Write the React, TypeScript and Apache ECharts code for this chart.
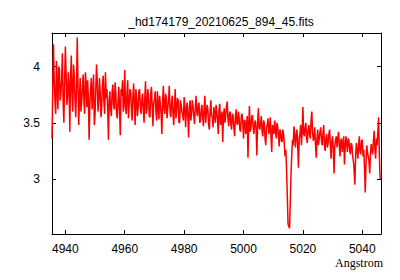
import React, { useEffect, useRef } from "react";
import * as echarts from "echarts";

const TITLE = "_hd174179_20210625_894_45.fits";
const X_NAME = "Angstrom";
const X_TICKS = [4940, 4960, 4980, 5000, 5020, 5040];
const Y_TICKS = [3, 3.5, 4];
const X_MIN = 4935.5;
const X_MAX = 5046.3;
const Y_MIN = 2.51;
const Y_MAX = 4.3;
// wavelength grid: start and step (Angstrom)
const WAVE_START = 4935.5;
const WAVE_STEP = 0.25;
// flux
const FLUX = [
  3.36, 3.78, 4.2, 3.88, 3.7, 3.58, 4.05, 3.82, 3.62, 4.0, 3.98, 3.7, 3.75, 3.9, 4.12, 3.68, 3.5, 3.86, 4.18, 3.95,
  3.66, 3.74, 3.95, 3.82, 3.42, 3.9, 4.1, 3.74, 3.6, 4.02, 3.92, 3.7, 3.55, 3.8, 4.26, 3.85, 3.48, 3.72, 3.9, 3.6,
  3.68, 3.82, 3.93, 3.7, 3.58, 3.95, 3.85, 3.64, 3.88, 3.72, 3.35, 3.66, 3.8, 3.9, 3.62, 3.75, 3.93, 3.48, 3.57, 3.8,
  4.02, 3.86, 3.6, 3.7, 3.9, 3.76, 3.55, 3.66, 3.84, 3.92, 3.68, 3.58, 3.95, 3.72, 3.8, 3.64, 3.35, 3.7, 3.78, 3.62,
  3.56, 3.78, 3.84, 3.66, 3.62, 3.86, 3.76, 3.58, 3.54, 3.7, 3.82, 3.62, 3.39, 3.8, 3.74, 3.88, 3.6, 3.68, 3.97, 3.64,
  3.58, 3.76, 3.88, 3.54, 3.66, 3.8, 3.78, 3.62, 3.52, 3.74, 3.85, 3.66, 3.48, 3.8, 3.72, 3.56, 3.63, 3.78, 3.8, 3.64,
  3.58, 3.7, 3.76, 3.62, 3.5, 3.72, 3.87, 3.58, 3.62, 3.8, 3.74, 3.56, 3.55, 3.76, 3.82, 3.64, 3.47, 3.68, 3.7, 3.78,
  3.6, 3.52, 3.78, 3.66, 3.53, 3.74, 3.66, 3.58, 3.4, 3.7, 3.83, 3.62, 3.58, 3.76, 3.72, 3.54, 3.63, 3.7, 3.83, 3.6,
  3.55, 3.68, 3.74, 3.58, 3.48, 3.66, 3.8, 3.54, 3.62, 3.72, 3.7, 3.5, 3.5, 3.7, 3.66, 3.6, 3.57, 3.52, 3.73, 3.64,
  3.46, 3.62, 3.68, 3.55, 3.37, 3.64, 3.7, 3.52, 3.58, 3.7, 3.65, 3.56, 3.49, 3.62, 3.74, 3.6, 3.56, 3.66, 3.68, 3.5,
  3.52, 3.62, 3.66, 3.54, 3.47, 3.64, 3.74, 3.5, 3.58, 3.66, 3.62, 3.48, 3.44, 3.6, 3.7, 3.56, 3.55, 3.46, 3.64, 3.58,
  3.5, 3.66, 3.6, 3.52, 3.4, 3.62, 3.67, 3.48, 3.53, 3.6, 3.33, 3.56, 3.63, 3.5, 3.56, 3.64, 3.69, 3.54, 3.47, 3.58,
  3.6, 3.48, 3.44, 3.58, 3.56, 3.46, 3.38, 3.54, 3.62, 3.5, 3.48, 3.6, 3.55, 3.44, 3.42, 3.56, 3.58, 3.5, 3.36, 3.52,
  3.52, 3.4, 3.46, 3.56, 3.19, 3.48, 3.65, 3.42, 3.45, 3.55, 3.57, 3.46, 3.4, 3.5, 3.52, 3.44, 3.21, 3.5, 3.63, 3.46,
  3.44, 3.5, 3.56, 3.42, 3.38, 3.52, 3.5, 3.36, 3.3, 3.46, 3.48, 3.54, 3.4, 3.44, 3.55, 3.38, 3.24, 3.48, 3.46, 3.4,
  3.52, 3.44, 3.36, 3.5, 3.47, 3.38, 3.29, 3.44, 3.42, 3.34, 3.33, 3.44, 3.4, 3.3, 3.2, 3.26, 3.08, 2.84, 2.6, 2.58,
  2.56, 2.8, 3.04, 3.22, 3.35, 3.3, 3.47, 3.38, 3.28, 3.4, 3.44, 3.3, 3.1, 3.36, 3.4, 3.48, 3.3, 3.42, 3.64, 3.4,
  3.38, 3.46, 3.5, 3.36, 3.32, 3.44, 3.48, 3.4, 3.36, 3.52, 3.6, 3.42, 3.34, 3.38, 3.46, 3.3, 3.19, 3.36, 3.44, 3.3,
  3.36, 3.42, 3.46, 3.34, 3.3, 3.4, 3.48, 3.3, 3.25, 3.36, 3.4, 3.28, 3.32, 3.4, 3.44, 3.3, 3.18, 3.34, 3.38, 3.26,
  3.05, 3.3, 3.35, 3.38, 3.28, 3.36, 3.42, 3.3, 3.2, 3.34, 3.36, 3.24, 3.3, 3.38, 3.13, 3.28, 3.38, 3.32, 3.24, 3.36,
  3.34, 3.26, 3.22, 3.32, 3.3, 3.2, 3.16, 3.08, 2.95, 3.2, 3.32, 3.26, 3.18, 3.3, 3.38, 3.24, 3.22, 3.34, 3.35, 3.2,
  3.26, 3.1, 2.88, 3.14, 3.3, 3.24, 3.2, 3.16, 3.05, 3.22, 3.31, 3.26, 3.22, 3.34, 3.43, 3.26, 3.18, 3.36, 3.3, 3.42,
  3.55, 3.2, 3.0,
];

export default function App() {
  const ref = useRef<HTMLDivElement>(null);
  useEffect(() => {
    if (!ref.current) return;
    const chart = echarts.init(ref.current, undefined, { renderer: "svg" });
    const data = FLUX.map((v, i) => [WAVE_START + WAVE_STEP * i, v]);
    const sans = "'Liberation Sans', Arial, sans-serif";
    const tick = { show: true, inside: true, length: 4, lineStyle: { color: "#000", width: 1 } };
    const line = { show: true, onZero: false, lineStyle: { color: "#000", width: 1 } };
    chart.setOption({
      animation: false,
      backgroundColor: "#fff",
      title: {
        text: TITLE,
        left: 216,
        textAlign: "center",
        top: 11,
        textStyle: { fontFamily: sans, fontSize: 12, fontWeight: "normal", color: "#000" },
      },
      grid: { left: 52, top: 33, right: 19, bottom: 46, containLabel: false },
      xAxis: [
        {
          type: "value",
          min: X_MIN,
          max: X_MAX,
          position: "bottom",
          axisLine: line,
          axisTick: { ...tick, customValues: X_TICKS },
          splitLine: { show: false },
          axisLabel: {
            customValues: X_TICKS,
            formatter: (v: number) => String(v),
            color: "#000",
            fontFamily: sans,
            fontSize: 12,
            margin: 9,
          },
        },
        {
          type: "value",
          min: X_MIN,
          max: X_MAX,
          position: "top",
          axisLine: line,
          axisTick: { ...tick, customValues: X_TICKS },
          splitLine: { show: false },
          axisLabel: { show: false },
        },
      ],
      yAxis: [
        {
          type: "value",
          min: Y_MIN,
          max: Y_MAX,
          position: "left",
          axisLine: line,
          axisTick: { ...tick, customValues: Y_TICKS },
          splitLine: { show: false },
          axisLabel: {
            customValues: Y_TICKS,
            formatter: (v: number) => String(v),
            color: "#000",
            fontFamily: sans,
            fontSize: 12,
            margin: 12,
          },
        },
        {
          type: "value",
          min: Y_MIN,
          max: Y_MAX,
          position: "right",
          axisLine: line,
          axisTick: { ...tick, customValues: Y_TICKS },
          splitLine: { show: false },
          axisLabel: { show: false },
        },
      ],
      graphic: [
        {
          type: "text",
          right: 17,
          top: 257,
          style: {
            text: X_NAME,
            fill: "#000",
            font: "12px 'Liberation Serif', 'Times New Roman', serif",
          },
        },
      ],
      series: [
        {
          type: "line",
          data,
          xAxisIndex: 0,
          yAxisIndex: 0,
          showSymbol: false,
          symbol: "none",
          lineStyle: { color: "#ff0000", width: 1.5 },
          itemStyle: { color: "#ff0000" },
          clip: true,
        },
      ],
    });
    return () => chart.dispose();
  }, []);
  return (
    <div
      ref={ref}
      style={{ position: "fixed", left: 0, top: 0, width: 400, height: 280 }}
    />
  );
}
